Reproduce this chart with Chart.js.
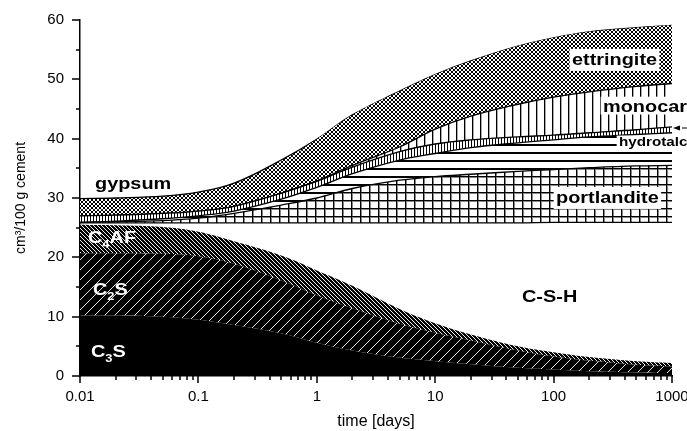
<!DOCTYPE html>
<html>
<head>
<meta charset="utf-8">
<script src="https://cdn.jsdelivr.net/npm/chart.js@4.4.1/dist/chart.umd.min.js"></script>
<style>
  html, body { margin: 0; padding: 0; background: #fff; }
</style>
</head>
<body>
<canvas id="phase-chart" width="687" height="431"></canvas>
<script>
// hydration time in days (log axis)
const times = [0.01, 0.02, 0.05, 0.1, 0.2, 0.5, 1, 2, 5, 10, 20, 50, 100, 200, 500, 1000];

// upper edge of every phase, cm3/100 g cement (stacked)
const c3sTop = [10.2, 10.2, 10.0, 9.5, 8.6, 7.2, 5.6, 4.3, 3.1, 2.5, 2.0, 1.4, 1.1, 0.8, 0.6, 0.5];
const c2sTop = [20.7, 20.7, 20.6, 20.2, 18.9, 16.1, 13.6, 11.4, 8.8, 7.3, 6.0, 4.3, 3.3, 2.6, 1.9, 1.6];
const c4afTop = [25.5, 25.4, 25.1, 24.3, 22.7, 20.3, 17.8, 15.2, 11.3, 8.9, 7.0, 5.0, 4.0, 3.2, 2.5, 2.2];
const cshTop = [25.8, 25.8, 25.8, 25.8, 25.8, 25.8, 25.8, 25.8, 25.8, 25.8, 25.8, 25.8, 25.9, 25.9, 25.9, 25.9];
const portlanditeTop = [25.9, 26.0, 26.2, 26.6, 27.4, 28.8, 30.0, 31.6, 33.0, 33.6, 34.0, 34.5, 34.8, 35.1, 35.4, 35.5];
const hydrotalciteTop = [25.9, 26.1, 26.5, 27.0, 27.8, 29.8, 31.8, 34.1, 36.4, 37.5, 38.5, 39.3, 39.8, 40.3, 40.7, 41.0];
const calciteTop = [27.0, 27.1, 27.4, 27.8, 28.6, 30.8, 32.8, 35.2, 37.8, 39.1, 39.8, 40.3, 40.6, 41.0, 41.5, 42.0];
const monocarbonateTop = [27.0, 27.1, 27.4, 27.8, 28.6, 30.8, 32.9, 35.5, 38.6, 41.6, 43.8, 45.8, 47.0, 47.9, 48.8, 49.3];
const ettringiteTop = [28.0, 28.2, 28.7, 29.4, 31.2, 35.6, 39.9, 44.0, 48.0, 50.8, 53.1, 55.6, 57.0, 58.0, 58.7, 59.1];
const gypsumTop = [29.9, 30.0, 30.3, 31.0, 32.5, 36.4, 39.9, 44.0, 48.0, 50.8, 53.1, 55.6, 57.0, 58.0, 58.7, 59.1];

const xTickValues = [0.01, 0.1, 1, 10, 100, 1000];
const xTickLabels = ['0.01', '0.1', '1', '10', '100', '1000'];
const yTickValues = [0, 10, 20, 30, 40, 50, 60];

const FONT = "'Liberation Sans', Arial, sans-serif";
Chart.defaults.font.family = FONT;
Chart.defaults.color = '#000';

// pixel tiles used as fill patterns: cells(x, y) gives the colour of a pixel, or nothing
function tile(w, h, bg, cells) {
    const c = document.createElement('canvas');
    c.width = w;
    c.height = h;
    const g = c.getContext('2d');
    g.fillStyle = bg;
    g.fillRect(0, 0, w, h);
    for (let y = 0; y < h; y++) {
        for (let x = 0; x < w; x++) {
            const col = cells(x, y, w, h);
            if (col) {
                g.fillStyle = col;
                g.fillRect(x, y, 1, 1);
            }
        }
    }
    return g.createPattern(c, 'repeat');
}

const patC2S = tile(10, 10, '#000', (x, y, w) => x === w - 1 - y && '#e6e6e6');
const patC4AF = tile(4, 4, '#000', (x, y) => x === y && '#f0f0f0');
const patCross = tile(4, 4, '#fff', (x, y, w) => (x === y || x === w - 1 - y) && '#000');
const patGrid = tile(9, 8, '#fff', (x, y) => (x === 0 || y === 0) ? '#000' : (x === 1 || y === 1) ? '#888' : null);
const patHoriz = tile(8, 8, '#fff', (x, y) => y <= 1 && '#000');
const patBars = tile(3, 3, '#fff', (x) => x === 0 && '#000');
const patVert = tile(8, 8, '#fff', (x) => x === 0 ? '#000' : x === 1 ? '#aaa' : null);

function layer(label, values, fill, bg, borderWidth) {
    return {
        label: label,
        data: times.map((t, i) => ({ x: t, y: values[i] })),
        fill: fill,
        backgroundColor: bg,
        borderColor: '#000',
        borderWidth: borderWidth,
        pointRadius: 0,
        tension: 0.4
    };
}

// text on the chart, drawn a little wide like the original
function drawLabel(ctx, parts, x, y, size, color, box) {
    const sx = 1.17;
    ctx.save();
    ctx.translate(x, y);
    ctx.scale(sx, 1);
    let w = 0;
    parts.forEach(p => {
        ctx.font = 'bold ' + (p.sub ? Math.round(size * 0.62) : size) + 'px ' + FONT;
        w += ctx.measureText(p.t).width;
    });
    if (box) {
        ctx.fillStyle = '#fff';
        ctx.fillRect(-2, -box[0] * size, w + 4, (box[0] + box[1]) * size);
    }
    ctx.fillStyle = color;
    ctx.textBaseline = 'alphabetic';
    let cx = 0;
    parts.forEach(p => {
        ctx.font = 'bold ' + (p.sub ? Math.round(size * 0.62) : size) + 'px ' + FONT;
        ctx.fillText(p.t, cx, p.sub ? size * 0.3 : 0);
        cx += ctx.measureText(p.t).width;
    });
    ctx.restore();
}

const decorations = {
    id: 'decorations',
    afterDraw(chart) {
        const ctx = chart.ctx;
        const xs = chart.scales.x;
        const ys = chart.scales.y;
        ctx.save();
        ctx.strokeStyle = '#000';
        ctx.lineWidth = 1.5;
        ctx.beginPath();
        for (let d = -2; d <= 3; d++) {
            for (let m = 1; m <= 9; m++) {
                const v = m * Math.pow(10, d);
                if (v > 1000.0001) break;
                const px = Math.round(xs.getPixelForValue(v));
                ctx.moveTo(px, ys.bottom);
                ctx.lineTo(px, ys.bottom + (m === 1 ? 7 : 4));
            }
        }
        for (let v = 0; v <= 60; v += 5) {
            const py = Math.round(ys.getPixelForValue(v));
            ctx.moveTo(xs.left, py);
            ctx.lineTo(xs.left - (v % 10 === 0 ? 8 : 4), py);
        }
        ctx.stroke();

        drawLabel(ctx, [{ t: 'gypsum' }], 95, 189, 17, '#000');
        drawLabel(ctx, [{ t: 'ettringite' }], 572, 65, 17, '#000', [0.95, 0.35]);
        drawLabel(ctx, [{ t: 'monocarbonate' }], 603, 112, 17, '#000', [0.9, 0.15]);
        drawLabel(ctx, [{ t: 'hydrotalcite' }], 619, 146, 13, '#000', [0.8, 0.4]);
        drawLabel(ctx, [{ t: 'portlandite' }], 556, 203, 17, '#000', [0.95, 0.35]);
        drawLabel(ctx, [{ t: 'C-S-H' }], 522, 302, 17, '#000');
        drawLabel(ctx, [{ t: 'C' }, { t: '4', sub: true }, { t: 'AF' }], 88, 243, 17, '#fff');
        drawLabel(ctx, [{ t: 'C' }, { t: '2', sub: true }, { t: 'S' }], 93, 295, 17, '#fff');
        drawLabel(ctx, [{ t: 'C' }, { t: '3', sub: true }, { t: 'S' }], 91, 357, 17, '#fff');

        // arrow pointing at the thin band (its name runs off the figure)
        ctx.fillStyle = '#000';
        ctx.beginPath();
        ctx.moveTo(673, 128);
        ctx.lineTo(680, 125.5);
        ctx.lineTo(680, 130.5);
        ctx.closePath();
        ctx.fill();
        ctx.lineWidth = 1;
        ctx.beginPath();
        ctx.moveTo(682, 128);
        ctx.lineTo(687, 128);
        ctx.stroke();
        ctx.restore();
    }
};

const phaseChart = document.getElementById('phase-chart');
const phases = new Chart(phaseChart, {
    type: 'line',
    data: {
        datasets: [
            layer('C3S', c3sTop, 'origin', '#000', 0),
            layer('C2S', c2sTop, '-1', patC2S, 0),
            layer('C4AF', c4afTop, '-1', patC4AF, 0),
            layer('C-S-H', cshTop, false, '#fff', 1.3),
            layer('portlandite', portlanditeTop, '-1', patGrid, 1.3),
            layer('hydrotalcite', hydrotalciteTop, '-1', patHoriz, 1.3),
            layer('calcite', calciteTop, '-1', patBars, 1.3),
            layer('monocarbonate', monocarbonateTop, '-1', patVert, 1.3),
            layer('ettringite', ettringiteTop, '-1', patCross, 0),
            layer('gypsum', gypsumTop, '-1', patCross, 1.3)
        ]
    },
    options: {
        responsive: false,
        devicePixelRatio: 1,
        animation: false,
        layout: { padding: { top: 20, right: 15, left: 0, bottom: 0 } },
        plugins: {
            legend: { display: false },
            tooltip: { enabled: false }
        },
        scales: {
            x: {
                type: 'logarithmic',
                min: 0.01,
                max: 1000,
                grid: { display: false, drawTicks: false },
                border: { display: true, color: '#000', width: 1.5 },
                ticks: {
                    autoSkip: false,
                    maxRotation: 0,
                    padding: 12,
                    font: { size: 15 },
                    callback: (value) => {
                        const i = xTickValues.indexOf(value);
                        return i >= 0 ? xTickLabels[i] : '';
                    }
                },
                title: { display: true, text: 'time [days]', font: { size: 16 }, padding: { top: 0, bottom: 0 } },
                afterBuildTicks: (scale) => {
                    scale.ticks = xTickValues.map(v => ({ value: v }));
                },
                afterFit: (scale) => {
                    scale.height = 55;
                    scale.paddingLeft = 0;
                    scale.paddingRight = 0;
                }
            },
            y: {
                min: 0,
                max: 60,
                grid: { display: false, drawTicks: false },
                border: { display: true, color: '#000', width: 1.5 },
                ticks: { padding: 16, font: { size: 15 } },
                title: { display: true, text: 'cm³/100 g cement', font: { size: 14 }, padding: { top: 13, bottom: 0 } },
                afterBuildTicks: (scale) => {
                    scale.ticks = yTickValues.map(v => ({ value: v }));
                },
                afterFit: (scale) => {
                    scale.width = 80;
                    scale.paddingTop = 0;
                    scale.paddingBottom = 0;
                }
            }
        }
    },
    plugins: [decorations]
});
</script>
</body>
</html>
